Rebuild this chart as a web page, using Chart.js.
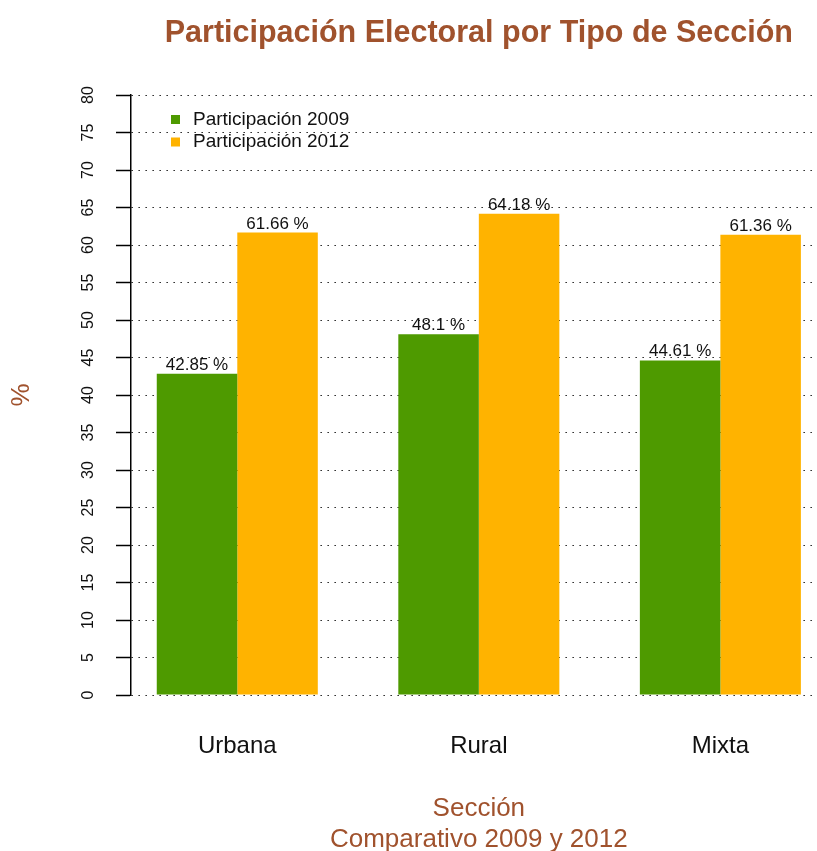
<!DOCTYPE html>
<html>
<head>
<meta charset="utf-8">
<script src="https://cdn.jsdelivr.net/npm/chart.js@4/dist/chart.umd.min.js"></script>
<style>
  html, body { margin: 0; padding: 0; background: #fff; overflow: hidden; }
  #wrap { width: 817px; height: 851px; }
</style>
</head>
<body>
<div id="wrap"><canvas id="c" width="817" height="851"></canvas></div>
<script>
// ---- Data ----
const categories = ["Urbana", "Rural", "Mixta"];
const seriesNames = ["Participación 2009", "Participación 2012"];
const values2009 = [42.85, 48.1, 44.61];
const values2012 = [61.66, 64.18, 61.36];
const yTicks = [0, 5, 10, 15, 20, 25, 30, 35, 40, 45, 50, 55, 60, 65, 70, 75, 80];

const titleText = "Participación Electoral por Tipo de Sección";
const xTitleLines = ["Sección", "Comparativo 2009 y 2012"];
const yTitleText = "%";

// ---- Styles ----
const FONT = '"Liberation Sans", Arial, Helvetica, sans-serif';
const colors = ["#4E9A00", "#FFB300"];
const accent = "#A0522D";

// group centre on a barplot-style axis: one bar-width gap, then two bars
const groupPos = categories.map((_, i) => 2 + 3 * i);
const toPoints = arr => arr.map((v, i) => ({ x: groupPos[i], y: v }));

const decor = {
  id: 'decor',
  afterDatasetsDraw(chart) {
    const ctx = chart.ctx;
    const xs = chart.scales.x, ys = chart.scales.y;
    const ca = chart.chartArea;
    ctx.save();
    // value labels
    ctx.font = '17px ' + FONT;
    ctx.fillStyle = '#111';
    ctx.textAlign = 'center';
    ctx.textBaseline = 'alphabetic';
    chart.data.datasets.forEach((ds, di) => {
      chart.getDatasetMeta(di).data.forEach((bar, i) => {
        ctx.fillText(ds.data[i].y + ' %', bar.x, bar.y - 4);
      });
    });
    // rotated y tick labels
    ctx.font = '16px ' + FONT;
    ctx.fillStyle = '#111';
    ys.ticks.forEach(t => {
      const py = ys.getPixelForValue(t.value);
      ctx.save();
      ctx.translate(89, py);
      ctx.rotate(-Math.PI / 2);
      ctx.textAlign = 'center';
      ctx.textBaseline = 'middle';
      ctx.fillText(String(t.value), 0, 0);
      ctx.restore();
    });
    // legend
    ctx.font = '19px ' + FONT;
    ctx.textAlign = 'left';
    ctx.textBaseline = 'middle';
    const legY = [119.5, 142];
    chart.data.datasets.forEach((ds, di) => {
      ctx.fillStyle = ds.backgroundColor;
      ctx.fillRect(171, legY[di] - 4.5, 9, 9);
      ctx.fillStyle = '#111';
      ctx.fillText(ds.label, 193, legY[di]);
    });
    // titles
    const midX = xs.getPixelForValue((groupPos[0] + groupPos[groupPos.length - 1]) / 2);
    ctx.fillStyle = accent;
    ctx.textAlign = 'center';
    ctx.textBaseline = 'alphabetic';
    ctx.font = 'bold 30.5px ' + FONT;
    ctx.fillText(titleText, midX, 42);
    ctx.font = '26px ' + FONT;
    ctx.fillText(xTitleLines[0], midX, 816);
    ctx.fillText(xTitleLines[1], midX, 847);
    ctx.save();
    ctx.translate(29, (ca.top + ca.bottom) / 2);
    ctx.rotate(-Math.PI / 2);
    ctx.fillText(yTitleText, 0, 0);
    ctx.restore();
    ctx.restore();
  }
};

new Chart(document.getElementById('c'), {
  type: 'bar',
  data: {
    datasets: [
      { label: seriesNames[0], data: toPoints(values2009), backgroundColor: colors[0], borderWidth: 0 },
      { label: seriesNames[1], data: toPoints(values2012), backgroundColor: colors[1], borderWidth: 0 }
    ]
  },
  options: {
    responsive: false,
    animation: false,
    devicePixelRatio: 1,
    categoryPercentage: 2 / 3,
    barPercentage: 1,
    layout: { padding: { top: 95, left: 0, right: 0, bottom: 0 } },
    plugins: { legend: { display: false }, title: { display: false }, tooltip: { enabled: false } },
    scales: {
      x: {
        type: 'linear',
        position: 'bottom',
        offset: false,
        min: 0.68,
        max: 9.2,
        grid: { display: false, drawTicks: false, offset: false },
        border: { display: false },
        afterBuildTicks: s => { s.ticks = groupPos.map(v => ({ value: v })); },
        afterFit: s => { s.height = 156; },
        ticks: {
          autoSkip: false,
          maxRotation: 0,
          minRotation: 0,
          padding: 37,
          color: '#111',
          font: { family: FONT, size: 24 },
          callback: (v, i) => categories[i]
        }
      },
      y: {
        min: 0,
        max: 80,
        afterBuildTicks: s => { s.ticks = yTicks.map(v => ({ value: v })); },
        afterFit: s => { s.width = 131; },
        ticks: { display: false },
        border: { display: true, color: '#000', width: 1.5, dash: [1.3, 5.7] },
        grid: {
          color: '#000',
          lineWidth: 1,
          drawTicks: true,
          tickLength: 15,
          tickColor: '#000',
          tickWidth: 1.5,
          tickBorderDash: []
        }
      }
    }
  },
  plugins: [decor]
});
</script>
</body>
</html>
